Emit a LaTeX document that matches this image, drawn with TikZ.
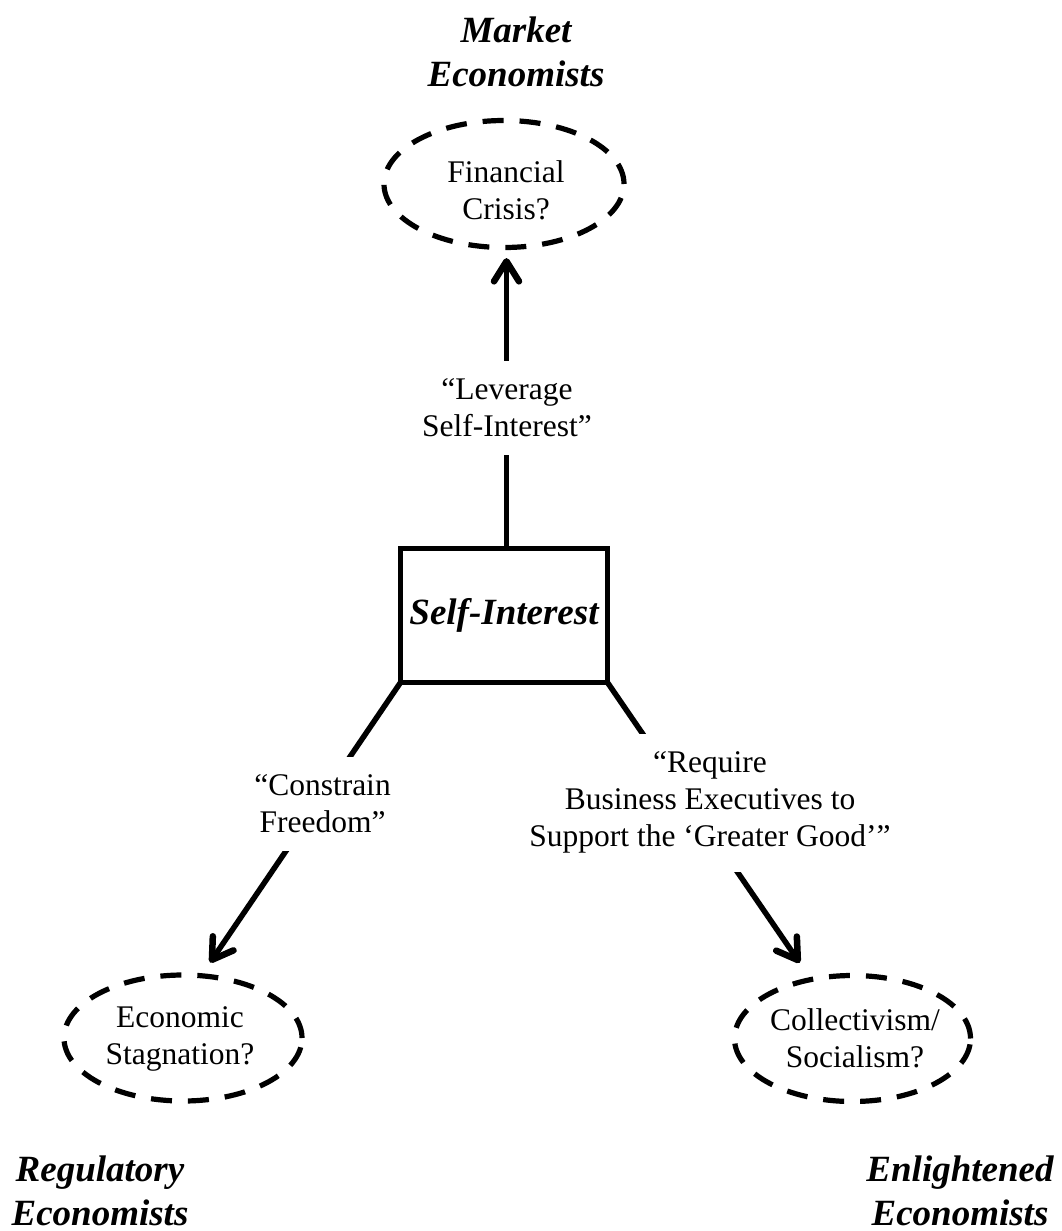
\documentclass[tikz,border=0pt]{standalone}
\usepackage{fontspec}
\setmainfont{Liberation Serif}
\usetikzlibrary{arrows.meta,shapes.geometric}
\begin{document}
\begin{tikzpicture}[x=1pt,y=-1pt,
  oval/.style={draw, ellipse, line width=5.2pt, dash pattern=on 21pt off 16pt,
    inner sep=0pt, minimum width=238pt, minimum height=126pt},
  ovaltext/.style={align=center, font=\fontsize{31.5}{37}\selectfont, inner sep=0pt},
  titletext/.style={align=center, font=\fontsize{37}{44}\selectfont\bfseries\itshape, inner sep=0pt},
  lbl/.style={align=center, font=\fontsize{31.5}{37}\selectfont, fill=white,
    inner xsep=4pt, inner ysep=18pt},
  centerbox/.style={draw, line width=5.5pt, minimum width=207pt, minimum height=134pt,
    inner sep=0pt, outer sep=0pt, font=\fontsize{37}{44}\selectfont\bfseries\itshape},
  conn/.style={line width=5.5pt},
  arr/.style={conn, -{Straight Barb[length=20pt,width=25pt,round,line width=6.5pt]}},
  ]
\useasboundingbox (0,0) rectangle (1062,1231);

% ellipses
\node[oval, minimum width=240pt, minimum height=127pt] (fin) at (504,184) {};
\node[oval] (stag) at (183,1038) {};
\node[oval, minimum width=236pt] (coll) at (852.5,1038.5) {};

\node[ovaltext] (fint) at (506,190) {Financial\\Crisis?};
\node[ovaltext] (stagt) at (180,1039) {Economic\\Stagnation?};
\node[ovaltext] (collt) at (855,1038.3) {Collectivism/\\Socialism?};

% central box
\node[centerbox] (self) at (504,615.5) {Self-Interest};

% titles
\node[titletext] (mkt) at (516,51.5) {Market\\Economists};
\node[titletext] (reg) at (100,1190.5) {Regulatory\\Economists};
\node[titletext] (enl) at (960,1190.5) {Enlightened\\Economists};

% connectors
\draw[arr, shorten >=8pt] ([xshift=2.5pt]self.north) -- ([xshift=2.5pt]fin.south);
\draw[arr, shorten >=13pt] (self.south west) -- (stag.73);
\draw[arr, shorten >=17.5pt] (self.south east) -- (coll.125);

% connector labels
\node[lbl] (lev) at (507,407.7) {“Leverage\\Self-Interest”};
\node[lbl] (con) at (322.5,803.7) {“Constrain\\Freedom”};
\node[lbl] (req) at (710,802.7) {“Require\\Business Executives to\\Support the ‘Greater Good’”};
\end{tikzpicture}
\end{document}
